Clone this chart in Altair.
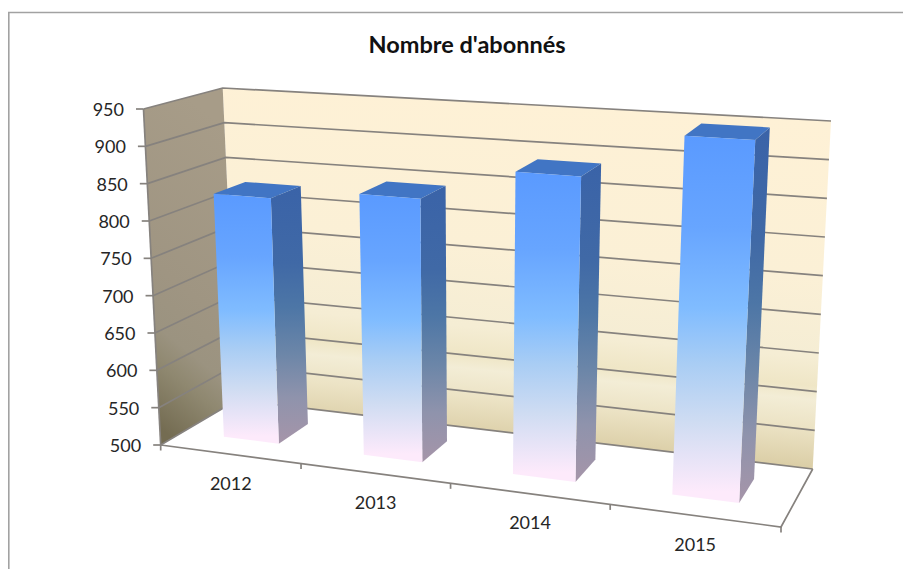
import altair as alt
import pandas as pd

years = ["2012", "2013", "2014", "2015"]
subscribers = [830, 845, 889, 949]
value_ticks = [500, 550, 600, 650, 700, 750, 800, 850, 900, 950]
title_text = "Nombre d'abonnés"

V0, V1 = 500.0, 950.0
K = 1.14          # perspective along the category axis
W0, W1 = 0.30, 0.72   # bar depth inside the floor

# corners of the 3-D box as seen on the picture: (u, v, w) -> pixel
BOX = {
    (0, 0, 0): (160.7, 445.0), (1, 0, 0): (781.0, 527.0),
    (0, 1, 0): (143.5, 109.0), (1, 1, 0): (800.5, 152.0),
    (0, 0, 1): (237.0, 400.0), (1, 0, 1): (812.7, 469.0),
    (0, 1, 1): (222.7, 88.0),  (1, 1, 1): (831.0, 121.0),
}


def project(t, val, w):
    u = t / (t + (1 - t) * K)
    v = (val - V0) / (V1 - V0)
    px = py = 0.0
    for (a, b, c), (x, y) in BOX.items():
        f = (u if a else 1 - u) * (v if b else 1 - v) * (w if c else 1 - w)
        px += f * x
        py += f * y
    return px, py


def path(name, pts):
    return [{"id": name, "i": i, "x": x, "y": y} for i, (x, y) in enumerate(pts)]


X = alt.X("x:Q", scale=alt.Scale(domain=[8, 903], range=[0, 895], nice=False, zero=False), axis=None)
Y = alt.Y("y:Q", scale=alt.Scale(domain=[569, 8], range=[561, 0], nice=False, zero=False), axis=None)


def filled(rows, fill):
    return alt.Chart(pd.DataFrame(rows)).mark_line(
        fill=fill, stroke="transparent", strokeWidth=0, interpolate="linear-closed"
    ).encode(x=X, y=Y, detail="id:N", order="i:Q")


def grad(stops, x1=0.5, y1=0.0, x2=0.5, y2=1.0):
    return alt.Gradient(
        gradient="linear", x1=x1, y1=y1, x2=x2, y2=y2,
        stops=[alt.GradientStop(offset=o, color=c) for o, c in stops],
    )


# walls
back = path("back", [project(0, V1, 1), project(1, V1, 1), project(1, V0, 1), project(0, V0, 1)])
left = path("left", [project(0, V1, 0), project(0, V1, 1), project(0, V0, 1), project(0, V0, 0)])
back_fill = grad([(0, "#fef1d6"), (0.45, "#fbf0d6"), (0.68, "#f5edd4"), (0.76, "#efe6c6"),
                  (0.80, "#f3edd6"), (0.88, "#ece3c5"), (1, "#dacda5")],
                 x1=0.5, y1=0.015, x2=0.37, y2=0.915)
left_fill = grad([(0, "#a79c88"), (0.55, "#9f9582"), (0.72, "#9b9380"), (0.82, "#8f8870"), (1, "#746c52")],
                 x1=0.6, y1=0.05, x2=0.4, y2=1.0)

# gridlines and axes
lines = []
for val in value_ticks:
    lines += path(f"grid{val}", [project(0, val, 0), project(0, val, 1), project(1, val, 1)])
    x, y = project(0, val, 0)
    lines += path(f"vtick{val}", [(x - 7.5, y), (x, y)])
lines += path("vaxis", [project(0, V1, 0), project(0, V0, 0)])
lines += path("xaxis", [project(0, V0, 0), project(1, V0, 0), project(1, V0, 1)])
for i in range(5):
    x, y = project(i / 4, V0, 0)
    lines += path(f"xtick{i}", [(x, y), (x, y + 5.5)])
lines_layer = alt.Chart(pd.DataFrame(lines)).mark_line(
    color="#86827e", strokeWidth=1.7
).encode(x=X, y=Y, detail="id:N", order="i:Q")

frame = alt.Chart(pd.DataFrame(path("frame", [(903, 12.5), (8.8, 12.5), (8.8, 569)]))).mark_line(
    color="#a2a2a2", strokeWidth=1.6
).encode(x=X, y=Y, detail="id:N", order="i:Q")

# bars
front, side, top = [], [], []
for i, val in enumerate(subscribers):
    t0, t1 = (i + 0.3) / 4, (i + 0.7) / 4
    front += path(f"f{i}", [project(t0, val, W0), project(t1, val, W0), project(t1, V0, W0), project(t0, V0, W0)])
    side += path(f"s{i}", [project(t1, val, W0), project(t1, val, W1), project(t1, V0, W1), project(t1, V0, W0)])
    top += path(f"t{i}", [project(t0, val, W0), project(t0, val, W1), project(t1, val, W1), project(t1, val, W0)])

front_fill = grad([(0, "#5a9aff"), (0.25, "#67a5ff"), (0.47, "#80bcff"), (0.62, "#a9cdf4"),
                   (0.78, "#cfdcf2"), (0.97, "#fdeafb"), (1, "#fdeafb")])
side_fill = grad([(0, "#3a63a8"), (0.3, "#4069a6"), (0.47, "#4d76a6"), (0.65, "#6c86a8"),
                  (0.82, "#8f93ac"), (1, "#a695a9")])
top_fill = "#4175c4"

# text
values_txt = []
for val in value_ticks:
    x, y = project(0, val, 0)
    values_txt.append({"x": x - 19.5, "y": y + 2, "label": str(val)})
cat_txt = []
for i, yr in enumerate(years):
    x, y = project((i + 0.5) / 4, V0, 0)
    cat_txt.append({"x": x + 1, "y": y + 30.5, "label": yr})

value_labels = alt.Chart(pd.DataFrame(values_txt)).mark_text(
    align="right", baseline="middle", font="Lato", fontSize=18, color="#262626"
).encode(x=X, y=Y, text="label:N")
cat_labels = alt.Chart(pd.DataFrame(cat_txt)).mark_text(
    align="center", baseline="middle", font="Lato", fontSize=18, color="#262626"
).encode(x=X, y=Y, text="label:N")
title = alt.Chart(pd.DataFrame([{"x": 467.0, "y": 45.5, "label": title_text}])).mark_text(
    align="center", baseline="middle", font="Lato", fontSize=23.5, fontWeight="bold", color="#111111"
).encode(x=X, y=Y, text="label:N")

chart = alt.layer(
    frame,
    filled(back, back_fill),
    filled(left, left_fill),
    lines_layer,
    filled(side, side_fill),
    filled(top, top_fill),
    filled(front, front_fill),
    value_labels,
    cat_labels,
    title,
).properties(
    width=895, height=561, padding=0, background="white",
    autosize=alt.AutoSizeParams(type="none", contains="padding"),
).configure_view(stroke=None)

chart.save("out.html", embed_options={"renderer": "svg", "actions": False})
